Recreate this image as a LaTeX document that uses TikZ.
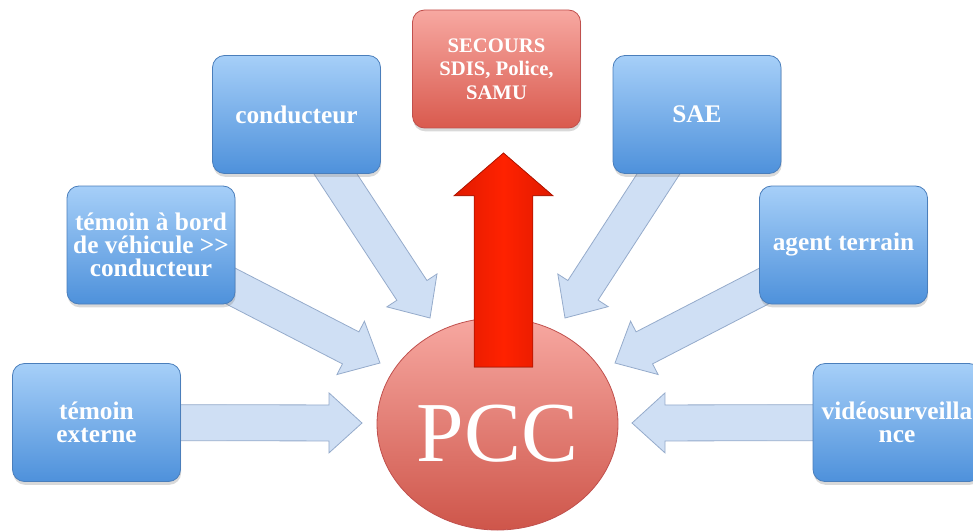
\documentclass[tikz,border=0pt]{standalone}
\usepackage{fontspec}
\setmainfont{Liberation Serif}
\usetikzlibrary{calc,shadows,shapes.geometric,backgrounds}

\definecolor{boxTop}{HTML}{A6CFF8}
\definecolor{boxBot}{HTML}{4E91DB}
\definecolor{boxEdge}{HTML}{4A7EBB}
\definecolor{redTop}{HTML}{F7A8A1}
\definecolor{redBot}{HTML}{D95A4E}
\definecolor{redEdge}{HTML}{C0504D}
\definecolor{arrowFill}{HTML}{CFDFF4}
\definecolor{arrowEdge}{HTML}{95ABCB}
\definecolor{bigRed}{HTML}{FF2200}
\definecolor{bigRedDark}{HTML}{E01A00}

% fat arrow: style, start, tip, shaft half width, head half width, head length
\newcommand{\fatarrow}[6]{%
  \coordinate (#3-b) at ($(#3)!#6!(#2)$);
  \filldraw[#1] ($(#2)!#4!90:(#3)$) -- ($(#3-b)!#4!-90:(#2)$)
     -- ($(#3-b)!#5!-90:(#2)$) -- (#3) -- ($(#3-b)!#5!90:(#2)$)
     -- ($(#3-b)!#4!90:(#2)$) -- ($(#2)!#4!-90:(#3)$) -- cycle;
}

\tikzset{
  bluebox/.style={rectangle, rounded corners=9pt, minimum width=126pt,
    minimum height=88.5pt, top color=boxTop, bottom color=boxBot,
    draw=boxEdge, line width=0.6pt, text=white, align=center,
    font=\bfseries\fontsize{19}{17.5}\selectfont,
    drop shadow={opacity=0.3, shadow xshift=0.5pt, shadow yshift=-2.5pt}},
  redbox/.style={bluebox, top color=redTop, bottom color=redBot,
    draw=redEdge, font=\bfseries\fontsize{15.5}{17.6}\selectfont},
  pccnode/.style={ellipse, minimum width=180.75pt, minimum height=159pt,
    inner sep=0pt, top color=redTop, bottom color=redBot!95!black,
    draw=redEdge, line width=0.6pt, text=white, text height=56pt,
    text depth=0pt, font=\fontsize{64}{64}\selectfont},
  fatblue/.style={fill=arrowFill, draw=arrowEdge, line width=0.6pt},
  fatred/.style={left color=bigRedDark, right color=bigRedDark,
    middle color=bigRed, draw=bigRedDark!80!black, line width=0.6pt}
}

\begin{document}
\begin{tikzpicture}[x=0.75pt, y=-0.75pt]
  \useasboundingbox (0,0) rectangle (973,531);

  \node[redbox]  (secours)    at (496.5,69)    {SECOURS\\SDIS, Police,\\SAMU};
  \node[bluebox] (conducteur) at (296.5,114.5) {conducteur};
  \node[bluebox] (sae)        at (697,114.5)   {SAE};
  \node[bluebox] (temoinbord) at (151,245)     {témoin à bord\\de véhicule >{}>\\conducteur};
  \node[bluebox] (agent)      at (843.5,245)   {agent terrain};
  \node[bluebox] (externe)    at (96.5,422.5)  {témoin\\externe};
  \node[bluebox] (video)      at (897,422.5)   {vidéosurveilla\\nce};

  \coordinate (tipCond)   at (430,318);
  \coordinate (tipSae)    at (565,318);
  \coordinate (tipBord)   at (380,363);
  \coordinate (tipAgent)  at (615,363);
  \coordinate (tipExt)    at (362,423);
  \coordinate (tipVideo)  at (632,423);

  \begin{pgfonlayer}{background}
    \fatarrow{fatblue}{conducteur.center}{tipCond}{13.5pt}{22.5pt}{24.75pt}
    \fatarrow{fatblue}{sae.center}{tipSae}{13.5pt}{22.5pt}{24.75pt}
    \fatarrow{fatblue}{temoinbord.center}{tipBord}{13.5pt}{22.5pt}{24.75pt}
    \fatarrow{fatblue}{agent.center}{tipAgent}{13.5pt}{22.5pt}{24.75pt}
    \fatarrow{fatblue}{externe.center}{tipExt}{13.5pt}{22.5pt}{24.75pt}
    \fatarrow{fatblue}{video.center}{tipVideo}{13.5pt}{22.5pt}{24.75pt}
  \end{pgfonlayer}

  \node[pccnode] (pcc) at (497.5,424) {PCC};

  \coordinate (alertStart) at (503.5,367);
  \coordinate (alertTip)   at (503.5,153);
  \fatarrow{fatred}{alertStart}{alertTip}{22pt}{37pt}{32pt}
\end{tikzpicture}
\end{document}
